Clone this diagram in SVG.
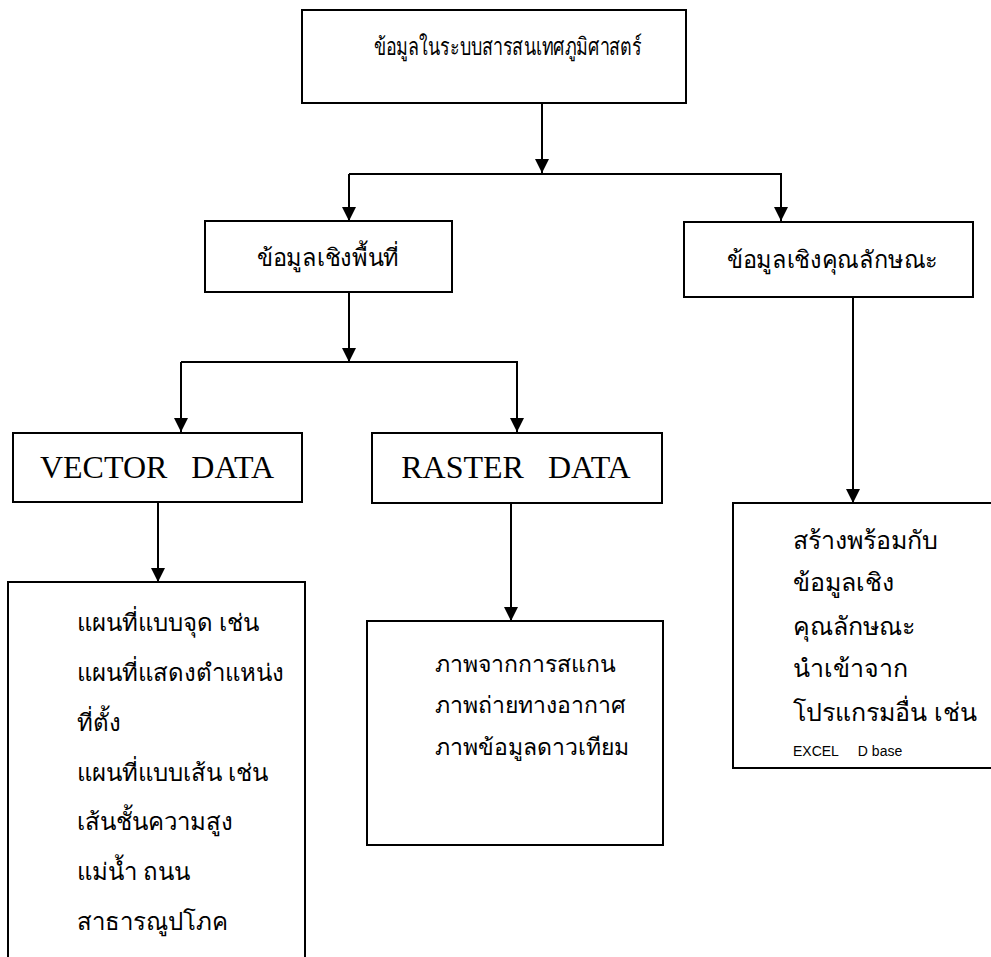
<svg xmlns="http://www.w3.org/2000/svg" width="991" height="957" viewBox="0 0 991 957">
<style>
.box{fill:#fff;stroke:#000;stroke-width:2}
.ln{stroke:#000;stroke-width:2;fill:none}
.th{font-family:"Liberation Serif","Noto Sans CJK SC",serif;font-size:24px;fill:#000}
.en{font-family:"Liberation Serif",serif;font-size:32px;fill:#000}
.ths{font-family:"Liberation Sans","Noto Sans",sans-serif;font-size:25px;fill:#000}
.sm{font-family:"Liberation Sans",sans-serif;font-size:14px;fill:#000}
</style>
<defs>
<marker id="ah" viewBox="0 0 14 14" refX="14" refY="7" markerWidth="14" markerHeight="14" markerUnits="userSpaceOnUse" orient="auto">
<path d="M0,0 L14,7 L0,14 Z" fill="#000"/>
</marker>
</defs>
<rect width="991" height="957" fill="#fff"/>
<g id="connectors">
<line class="ln" x1="542" y1="103" x2="542" y2="173" marker-end="url(#ah)"/>
<polyline class="ln" points="349,174 781,174 781,221" marker-end="url(#ah)"/>
<line class="ln" x1="349" y1="174" x2="349" y2="221" marker-end="url(#ah)"/>
<line class="ln" x1="349" y1="292" x2="349" y2="362" marker-end="url(#ah)"/>
<polyline class="ln" points="181,362 517,362 517,432" marker-end="url(#ah)"/>
<line class="ln" x1="181" y1="362" x2="181" y2="432" marker-end="url(#ah)"/>
<line class="ln" x1="158" y1="502" x2="158" y2="582" marker-end="url(#ah)"/>
<line class="ln" x1="511" y1="503" x2="511" y2="621" marker-end="url(#ah)"/>
<line class="ln" x1="853" y1="297" x2="853" y2="503" marker-end="url(#ah)"/>
</g>
<g id="n-root">
<rect class="box" x="302" y="10" width="384" height="93"/>
<text class="th" x="374" y="55" textLength="268" lengthAdjust="spacingAndGlyphs">ข้อมูลในระบบสารสนเทศภูมิศาสตร์</text>
</g>
<g id="n-spatial">
<rect class="box" x="205" y="221" width="247" height="71"/>
<text class="th" x="257" y="266" textLength="142" lengthAdjust="spacingAndGlyphs">ข้อมูลเชิงพื้นที่</text>
</g>
<g id="n-attr">
<rect class="box" x="684" y="222" width="289" height="75"/>
<text class="th" x="727" y="268" textLength="211" lengthAdjust="spacingAndGlyphs">ข้อมูลเชิงคุณลักษณะ</text>
</g>
<g id="n-vector">
<rect class="box" x="13" y="433" width="289" height="69"/>
<text class="en" x="157" y="478" text-anchor="middle" xml:space="preserve">VECTOR   DATA</text>
</g>
<g id="n-raster">
<rect class="box" x="372" y="433" width="290" height="70"/>
<text class="en" x="516" y="478" text-anchor="middle" xml:space="preserve">RASTER   DATA</text>
</g>
<g id="n-vector-detail">
<rect class="box" x="8" y="582" width="297" height="390"/>
<text class="th" x="77" y="631">แผนที่แบบจุด เช่น</text>
<text class="th" x="77" y="681">แผนที่แสดงตำแหน่ง</text>
<text class="th" x="77" y="731">ที่ตั้ง</text>
<text class="th" x="77" y="781">แผนที่แบบเส้น เช่น</text>
<text class="th" x="77" y="830">เส้นชั้นความสูง</text>
<text class="th" x="77" y="880">แม่น้ำ ถนน</text>
<text class="th" x="77" y="930">สาธารณูปโภค</text>
</g>
<g id="n-raster-detail">
<rect class="box" x="367" y="621" width="296" height="224"/>
<text class="th" x="435" y="672" style="font-size:23px">ภาพจากการสแกน</text>
<text class="th" x="435" y="713" style="font-size:23px">ภาพถ่ายทางอากาศ</text>
<text class="th" x="435" y="755" style="font-size:23px">ภาพข้อมูลดาวเทียม</text>
</g>
<g id="n-attr-detail">
<rect class="box" x="733" y="503" width="270" height="265"/>
<text class="ths" x="793" y="549">สร้างพร้อมกับ</text>
<text class="ths" x="793" y="591">ข้อมูลเชิง</text>
<text class="ths" x="793" y="635">คุณลักษณะ</text>
<text class="ths" x="793" y="677">นำเข้าจาก</text>
<text class="ths" x="793" y="721">โปรแกรมอื่น เช่น</text>
<text class="sm" x="793" y="756" xml:space="preserve">EXCEL     D base</text>
</g>
</svg>
